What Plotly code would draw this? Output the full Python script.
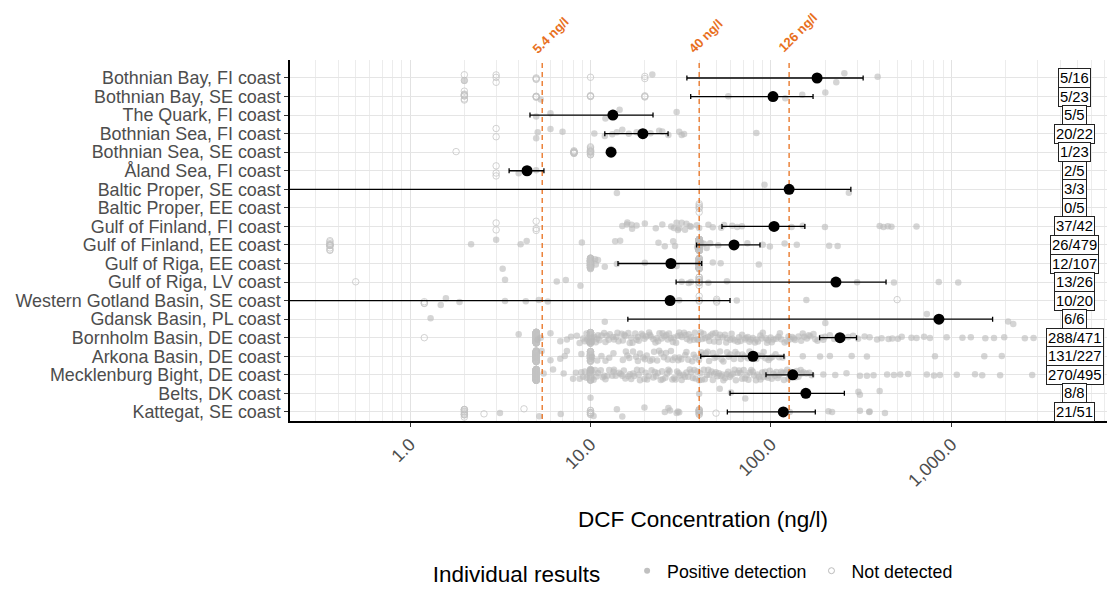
import math
import plotly.graph_objects as go

# ---------------- data ----------------
regions = [
    "Bothnian Bay, FI coast", "Bothnian Bay, SE coast", "The Quark, FI coast",
    "Bothnian Sea, FI coast", "Bothnian Sea, SE coast", "Åland Sea, FI coast",
    "Baltic Proper, SE coast", "Baltic Proper, EE coast", "Gulf of Finland, FI coast",
    "Gulf of Finland, EE coast", "Gulf of Riga, EE coast", "Gulf of Riga, LV coast",
    "Western Gotland Basin, SE coast", "Gdansk Basin, PL coast", "Bornholm Basin, DE coast",
    "Arkona Basin, DE coast", "Mecklenburg Bight, DE coast", "Belts, DK coast",
    "Kattegat, SE coast",
]
mean_conc = [180, 102.6, 13.3, 19.5, 13.0, 4.45, 126, None, 104, 62.4, 27.9, 229, 27.6,
             852, 241, 79.5, 132, 156, 117]
ci_low = [34.2, 35.9, 4.62, 12.0, 13.0, 3.54, 0.01, None, 53.5, 38.7, 14.2, 29.8, 0.01,
          16.1, 186, 40.8, 93.8, 59.3, 57.3]
ci_high = [324, 171, 22.2, 26.9, 13.0, 5.52, 277, None, 154, 86.9, 41.3, 434, 59.3,
           1690, 298, 118, 171, 255, 176]
count_labels = ["5/16", "5/23", "5/5", "20/22", "1/23", "2/5", "3/3", "0/5", "37/42",
                "26/479", "12/107", "13/26", "10/20", "6/6", "288/471", "131/227",
                "270/495", "8/8", "21/51"]
thresholds = [5.4, 40, 126]
threshold_labels = ["5.4 ng/l", "40 ng/l", "126 ng/l"]
x_tickvals = [1, 10, 100, 1000]
x_ticktext = ["1.0", "10.0", "100.0", "1,000.0"]
x_minor = [0.3, 0.4, 0.5, 0.6, 0.7, 0.8, 0.9, 2, 3, 4, 5, 6, 7, 8, 9,
           20, 30, 40, 50, 60, 70, 80, 90, 200, 300, 400, 500, 600, 700, 800, 900,
           2000, 3000, 4000, 5000, 6000, 7000, 8000]

# individual positive results (ng/l), one list per region
pos_bb_fi = [2.0, 22, 230, 255, 390]
pos_bb_se = [5.3, 58, 120, 149, 200]
pos_quark = [5.0, 6.0, 12.1, 14.5, 30]
pos_bs_fi = [5.0, 5.1, 6.0, 7.0, 10.5, 12.0, 13.2, 14.0, 15.0, 16.3, 18.0, 19.6, 21.5,
             24.0, 27.0, 31.0, 32.0, 33.0, 83, 25.0]
pos_bs_se = [13.0]
pos_aland = [4.0, 5.0]
pos_bp_se = [14, 92, 270]
pos_bp_ee = []
pos_gof_fi = [15.0, 15.9, 16.9, 16.0, 18.0, 23.0, 30.0, 30.5, 32.0, 33.4, 35.5, 38.8,
              47.6, 53.0, 61.0, 69.0, 130, 199, 420, 400, 444, 465, 640, 31, 34, 36,
              20, 25, 28, 55, 65, 100, 150, 17, 40, 45, 29]
pos_gof_ee = [2.18, 3.0, 4.1, 4.43, 8.96, 13.7, 14.6, 23.8, 25.8, 28.7, 29.4, 39.0, 40.5,
              41.0, 42.5, 44.0, 46.0, 51.0, 61.0, 74.0, 90.0, 98.6, 119, 139, 210, 234]
pos_gor_ee = [3.26, 10.6, 10.7, 11.0, 14.0, 20.0, 30.0, 40.0, 47.6, 52.6, 85.6, 12.0]
pos_gor_lv = [3.36, 6.5, 7.3, 8.8, 32, 35, 36, 45, 57, 300, 480, 850, 1090]
pos_wgb_se = [1.48, 1.58, 1.88, 3.36, 4.38, 5.17, 5.8, 31, 64.6, 157]
pos_gdansk = [1.3, 12.0, 200, 730, 2060, 2200]
pos_bornholm = [
    4.0, 5.1, 5.3, 6.0, 6.8, 7.4, 7.8, 8.4, 8.7, 9.1, 9.3, 9.6, 9.8, 10.1, 10.2, 10.5,
    10.7, 11.0, 11.2, 11.5, 11.9, 12.1, 12.6, 12.8, 13.3, 13.5, 14.1, 14.3, 14.9, 15.4,
    15.6, 16.2, 16.8, 17.1, 17.7, 18.3, 18.5, 19.2, 19.9, 20.4, 21.1, 21.6, 22.3, 22.9,
    23.7, 24.1, 24.8, 25.7, 26.3, 27.2, 27.9, 28.6, 29.8, 30.4, 31.5, 32.1, 33.6, 34.2,
    35.5, 36.1, 37.4, 38.9, 39.6, 40.8, 42.3, 43.1, 44.9, 46.2, 47.5, 49.3, 50.8, 52.1,
    54.0, 55.6, 57.2, 59.5, 61.3, 63.0, 65.4, 67.8, 69.1, 71.9, 74.3, 76.0, 79.2, 81.5,
    84.7, 87.3, 90.1, 93.8, 96.4, 99.5, 103, 107, 110, 114, 119, 123, 128, 131, 136, 142,
    147, 153, 158, 165, 172, 181, 190, 199, 212, 224, 236, 251, 268, 285, 304, 330, 352,
    387, 410, 448, 470, 505, 530, 600, 640, 705, 760, 940, 1150, 1280, 1540, 1720, 1960,
    2550, 2850, 9.5, 10.9, 12.3, 13.9, 15.1, 16.5, 18.0, 19.5, 21.3, 23.2, 25.1, 26.8,
    29.0, 31.0, 33.0, 35.0, 37.9, 41.5, 45.5, 48.4, 51.5, 56.5, 60.5, 66.5, 72.5, 77.5,
    83.0, 89.0, 95.0, 101, 112, 125, 134, 150, 162, 176, 195,
]
pos_arkona = [
    5.36, 6.0, 6.8, 7.2, 7.4, 8.9, 10.2, 10.9, 11.5, 12.1, 12.7, 13.4, 15.1, 15.7, 16.4,
    17.2, 17.9, 18.8, 19.6, 20.5, 21.4, 22.5, 23.4, 24.6, 25.5, 26.8, 27.9, 29.3, 30.6,
    31.9, 33.5, 34.8, 36.6, 38.2, 39.9, 41.7, 43.6, 45.4, 47.8, 49.9, 52.2, 54.5, 57.1,
    59.6, 62.3, 65.2, 68.0, 71.3, 74.5, 77.9, 81.2, 85.0, 89.1, 93.2, 97.0, 102, 106, 111,
    116, 150, 187, 212, 280, 340, 810, 1520, 1900, 16.0, 18.3, 20.0, 22.0, 24.0, 26.2,
    28.5, 31.0, 34.0, 37.3, 41.0, 44.5, 48.7, 53.3, 58.2, 63.5, 69.4, 76.0, 83.0, 91.0, 99.5,
]
pos_meck = [
    5.5, 6.2, 7.1, 8.0, 8.3, 8.7, 8.9, 9.3, 9.5, 9.9, 10.1, 10.4, 10.8, 11.0, 11.4, 11.7,
    12.1, 12.4, 12.7, 13.2, 13.5, 13.8, 14.4, 14.7, 15.3, 15.6, 16.2, 16.5, 17.2, 17.5,
    18.1, 18.8, 19.2, 19.9, 20.6, 21.0, 21.8, 22.3, 23.1, 23.6, 24.5, 25.1, 26.0, 26.6,
    27.4, 28.4, 29.1, 30.2, 30.8, 32.0, 32.7, 34.0, 34.8, 36.1, 36.9, 38.2, 39.1, 40.6,
    41.4, 43.0, 44.1, 45.6, 46.8, 48.5, 49.5, 51.4, 52.6, 54.5, 55.8, 57.9, 59.1, 61.5,
    62.8, 65.2, 66.5, 69.1, 70.6, 73.3, 75.0, 77.8, 79.3, 82.6, 84.2, 87.5, 89.4, 92.9,
    94.8, 98.5, 101, 105, 107, 111, 114, 118, 121, 125, 129, 133, 137, 142, 146, 151, 157,
    163, 168, 195, 227, 262, 311, 340, 370, 440, 480, 520, 575, 730, 800, 863, 1070, 1350,
    1480, 1860, 2800, 9.1, 10.6, 11.9, 13.4, 15.0, 16.8, 18.5, 20.2, 22.7, 24.9, 27.0,
    29.6, 31.4, 33.4, 35.5, 37.6, 40.0, 42.4, 44.9, 47.6, 50.5, 53.5, 56.8, 60.2, 63.9,
    67.7, 71.8, 76.2, 80.6, 85.7, 90.9, 96.3, 103, 109, 116, 123, 131, 139, 148,
]
pos_belts = [10, 40, 52, 60, 72, 305, 311, 400]
pos_kattegat = [3.15, 5.2, 6.84, 10.4, 14, 15, 19.9, 25.8, 27, 27.6, 30, 31, 40, 127,
                208, 218, 311, 350, 352, 428, 30.5]

# not-detected results as (reporting limit, number of samples)
nd_bb_fi = [(2.0, 2), (3.0, 3), (5.0, 3), (10, 1), (20, 2)]
nd_bb_se = [(2.0, 8), (5.0, 4), (10, 3), (20, 3)]
nd_quark = []
nd_bs_fi = [(3.0, 2)]
nd_bs_se = [(1.8, 1), (8.1, 9), (10, 12)]
nd_aland = [(3.0, 3)]
nd_bp_se = []
nd_bp_ee = [(40, 5)]
nd_gof_fi = [(3.0, 2), (5.0, 3)]
nd_gof_ee = [(0.36, 12), (40, 441)]
nd_gor_ee = [(10, 45), (40, 50)]
nd_gor_lv = [(0.5, 1), (40, 12)]
nd_wgb_se = [(1.2, 3), (40, 3), (50, 3), (500, 1)]
nd_gdansk = []
nd_bornholm = [(1.2, 1), (5.0, 120), (10, 62)]
nd_arkona = [(5.0, 60), (10, 36)]
nd_meck = [(5.0, 180), (10, 45)]
nd_belts = []
nd_kattegat = [(2.0, 10), (2.57, 1), (4.28, 1), (10, 8), (40, 9), (49.6, 1)]

pos_lists = [pos_bb_fi, pos_bb_se, pos_quark, pos_bs_fi, pos_bs_se, pos_aland, pos_bp_se,
             pos_bp_ee, pos_gof_fi, pos_gof_ee, pos_gor_ee, pos_gor_lv, pos_wgb_se,
             pos_gdansk, pos_bornholm, pos_arkona, pos_meck, pos_belts, pos_kattegat]
nd_lists = [nd_bb_fi, nd_bb_se, nd_quark, nd_bs_fi, nd_bs_se, nd_aland, nd_bp_se,
            nd_bp_ee, nd_gof_fi, nd_gof_ee, nd_gor_ee, nd_gor_lv, nd_wgb_se,
            nd_gdansk, nd_bornholm, nd_arkona, nd_meck, nd_belts, nd_kattegat]

# ---------------- styling ----------------
FONT = "Liberation Sans, Arial, sans-serif"
ORANGE = "#E8701E"
TICK_GREY = "#4D4D4D"
Y_TOP, Y_BOTTOM = -0.97, 18.49

pos_x, pos_y = [], []
for i, vals in enumerate(pos_lists):
    for v in vals:
        pos_x.append(v)
        pos_y.append(i)
nd_x, nd_y = [], []
for i, pairs in enumerate(nd_lists):
    for v, n in pairs:
        for _ in range(n):
            nd_x.append(v)
            nd_y.append(i)

fig = go.Figure()

box_common = dict(orientation="h", boxpoints="all", jitter=1.0, pointpos=0,
                  fillcolor="rgba(0,0,0,0)", line=dict(width=0, color="rgba(0,0,0,0)"),
                  showlegend=False, hoveron="points")
fig.add_trace(go.Box(x=nd_x, y=nd_y, name="Not detected",
                     marker=dict(symbol="circle-open", size=6.5, color="rgba(195,195,195,0.75)",
                                 line=dict(width=1)),
                     **box_common))
fig.add_trace(go.Box(x=pos_x, y=pos_y, name="Positive detection",
                     marker=dict(symbol="circle", size=6.5, color="rgba(185,185,185,0.6)",
                                 line=dict(width=0)),
                     **box_common))

# threshold lines (drawn above grey points, below summary points)
for t in thresholds:
    fig.add_trace(go.Scatter(x=[t, t], y=[-0.81, Y_BOTTOM], mode="lines",
                             line=dict(color=ORANGE, width=1.3, dash="5px,4px"),
                             showlegend=False, hoverinfo="skip"))

# summary means with intervals
err_plus, err_minus = [], []
for m, lo, hi in zip(mean_conc, ci_low, ci_high):
    if m is None:
        err_plus.append(None)
        err_minus.append(None)
    else:
        err_plus.append(hi - m)
        err_minus.append(m - lo)
fig.add_trace(go.Scatter(
    x=mean_conc, y=list(range(len(regions))), mode="markers",
    marker=dict(color="black", size=11),
    error_x=dict(type="data", symmetric=False, array=err_plus, arrayminus=err_minus,
                 color="black", thickness=1.3, width=2.5),
    showlegend=False))

# legend entries
fig.add_trace(go.Scatter(x=[None], y=[None], mode="markers", name="Positive detection",
                         marker=dict(symbol="circle", size=6, color="rgba(185,185,185,0.9)")))
fig.add_trace(go.Scatter(x=[None], y=[None], mode="markers", name="Not detected",
                         marker=dict(symbol="circle-open", size=6, color="rgba(180,180,180,0.9)",
                                     line=dict(width=1))))

annotations = []
for i, lab in enumerate(count_labels):
    annotations.append(dict(x=0.9515, xref="paper", y=i, yref="y", text=lab,
                            xanchor="center", yanchor="middle",
                            showarrow=False, font=dict(size=14.8, color="black", family=FONT),
                            bgcolor="white", bordercolor="#222", borderwidth=1, borderpad=1))
label_shift = [(8, 1.069), (6, 1.066), (9, 1.075)]
for t, lab, (xs, yp) in zip(thresholds, threshold_labels, label_shift):
    annotations.append(dict(x=math.log10(t), xref="x", y=yp, yref="paper", text="<b>" + lab + "</b>",
                            textangle=-45, showarrow=False, xanchor="center", yanchor="middle",
                            xshift=xs, font=dict(size=13, color=ORANGE, family=FONT)))
annotations.append(dict(x=0.5, xref="paper", y=-0.274, yref="paper",
                        text="DCF Concentration (ng/l)", showarrow=False,
                        xanchor="center", yanchor="middle",
                        font=dict(size=22.5, color="black", family=FONT)))

fig.update_layout(
    width=1107, height=585,
    margin=dict(l=282, r=0, t=52, b=172),
    paper_bgcolor="white", plot_bgcolor="white",
    font=dict(family=FONT, color="black"),
    boxmode="overlay", boxgap=0.15,
    annotations=annotations,
    legend=dict(orientation="h", x=0.49, xanchor="center", y=-0.42, yanchor="middle",
                title=dict(text="Individual results   ", font=dict(size=22.5, color="black")),
                font=dict(size=17.8, color="black"), itemwidth=30),
    xaxis=dict(type="log", range=[-0.665, 3.906], tickvals=x_tickvals, ticktext=x_ticktext,
               tickangle=-45, tickfont=dict(size=17.9, color=TICK_GREY),
               ticks="outside", ticklen=4, tickcolor="#333", tickwidth=1,
               showline=True, linecolor="black", linewidth=1.5,
               showgrid=True, gridcolor="#e2e2e2", gridwidth=1.3, zeroline=False,
               minor=dict(tickvals=x_minor, showgrid=True, gridcolor="#ececec",
                          gridwidth=0.8, ticks="")),
    yaxis=dict(range=[Y_BOTTOM, Y_TOP], tickvals=list(range(len(regions))), ticktext=regions,
               tickfont=dict(size=17.9, color=TICK_GREY),
               ticks="outside", ticklen=4, tickcolor="#333", tickwidth=1,
               showline=True, linecolor="black", linewidth=1.5,
               showgrid=True, gridcolor="#e5e5e5", gridwidth=1.3, zeroline=False),
)

fig.write_html("out.html")
